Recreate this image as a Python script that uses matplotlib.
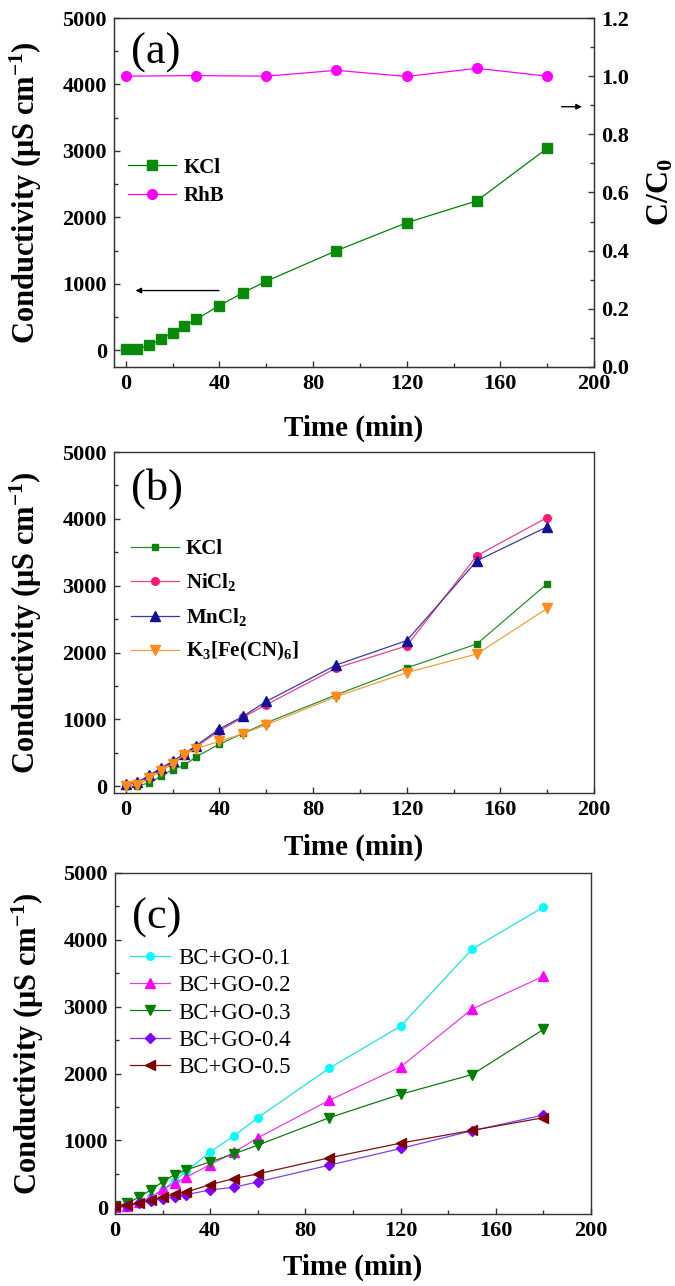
import matplotlib
matplotlib.use("Agg")
import matplotlib.pyplot as plt
from matplotlib.ticker import MultipleLocator, FormatStrFormatter

plt.rcParams['font.family'] = ['Liberation Serif', 'DejaVu Serif']
plt.rcParams['mathtext.fontset'] = 'custom'
plt.rcParams['mathtext.rm'] = 'Liberation Serif:bold'
plt.rcParams['mathtext.bf'] = 'Liberation Serif:bold'
plt.rcParams['mathtext.it'] = 'Liberation Serif:bold'
plt.rcParams['mathtext.default'] = 'rm'

# ---------------- data ----------------
# panel (a)
t_a = [0, 5, 10, 15, 20, 25, 30, 40, 50, 60, 90, 120, 150, 180]
kcl_a = [20, 20, 75, 165, 265, 365, 465, 675, 865, 1040, 1500, 1920, 2250, 3040]
t_rhb = [0, 30, 60, 90, 120, 150, 180]
rhb = [1.0, 1.002, 1.0, 1.02, 0.999, 1.027, 1.0]

# panel (b)
t_b = [0, 5, 10, 15, 20, 25, 30, 40, 50, 60, 90, 120, 150, 180]
kcl_b = [0, 10, 50, 150, 250, 313, 440, 630, 790, 950, 1370, 1770, 2130, 3030]
nicl2_b = [20, 50, 150, 260, 360, 480, 590, 830, 1030, 1220, 1770, 2100, 3450, 4020]
mncl2_b = [40, 60, 164, 274, 373, 488, 607, 857, 1045, 1269, 1816, 2179, 3373, 3881]
kfe_b = [0, 15, 125, 225, 340, 473, 563, 672, 787, 920, 1343, 1700, 1980, 2660]
labels_b = ['KCl', 'NiCl$_2$', 'MnCl$_2$', 'K$_3$[Fe(CN)$_6$]']

# panel (c)
t_c = [0, 5, 10, 15, 20, 25, 30, 40, 50, 60, 90, 120, 150, 180]
go01 = [0, 20, 60, 150, 260, 400, 540, 830, 1070, 1340, 2080, 2710, 3860, 4490]
go02 = [0, 25, 75, 150, 270, 360, 450, 640, 820, 1040, 1600, 2100, 2965, 3456]
go03 = [20, 60, 150, 260, 380, 490, 560, 680, 800, 930, 1340, 1690, 1985, 2660]
go04 = [10, 20, 60, 100, 130, 160, 190, 260, 300, 380, 630, 880, 1145, 1380]
go05 = [20, 30, 70, 110, 150, 200, 230, 340, 430, 500, 740, 960, 1150, 1340]
labels_c = ['BC+GO-0.1', 'BC+GO-0.2', 'BC+GO-0.3', 'BC+GO-0.4', 'BC+GO-0.5']

# ---------------- figure ----------------
fig = plt.figure(figsize=(6.75, 12.86), dpi=100)
W, H = 675.0, 1286.0

def add_ax(x0, x1, y0, y1):
    return fig.add_axes([x0 / W, 1 - y1 / H, (x1 - x0) / W, (y1 - y0) / H])

SPINE = '#333333'
TICKFS = 16
LABFS = 21

def style(ax, xlab_y):
    for s in ax.spines.values():
        s.set_color(SPINE)
        s.set_linewidth(1.0)
    ax.xaxis.set_major_locator(MultipleLocator(40))
    ax.xaxis.set_minor_locator(MultipleLocator(20))
    ax.yaxis.set_major_locator(MultipleLocator(1000))
    ax.yaxis.set_minor_locator(MultipleLocator(500))
    ax.tick_params(which='both', direction='in', color=SPINE, top=False, right=False,
                   labelsize=TICKFS, width=1.0)
    ax.tick_params(which='major', length=4.5, pad=5)
    ax.tick_params(which='minor', length=3)
    for lab in ax.get_xticklabels() + ax.get_yticklabels():
        lab.set_fontweight('bold')
    ax.set_xlabel('Time (min)', fontsize=LABFS, fontweight='bold', va='center')
    ax.xaxis.set_label_coords(0.5, xlab_y)
    ax.set_ylabel('Conductivity (μS cm$^{-1}$)', fontsize=LABFS + 1, fontweight='bold', va='center')
    ax.yaxis.set_label_coords(-0.183, 0.5)

lw = 0.9

# ---- (a)
ax = add_ax(114, 594, 18, 367)
ax.set_xlim(-5, 200)
ax.set_ylim(-250, 5000)
ax2 = ax.twinx()
ax2.set_ylim(0, 1.2)
ax.plot(t_a, kcl_a, '-s', color='#008000', mfc='#0a8a0a', mec='#0a8a0a', ms=6.5, lw=lw, label='KCl')
ax2.plot(t_rhb, rhb, '-o', color='#ff00ff', mfc='#ff00ff', mec='#ff00ff', ms=7, lw=lw)
ax.plot([], [], '-o', color='#ff00ff', mfc='#ff00ff', mec='#ff00ff', ms=7, lw=lw, label='RhB')
style(ax, -0.175)
ax2.yaxis.set_major_locator(MultipleLocator(0.2))
ax2.yaxis.set_minor_locator(MultipleLocator(0.1))
ax2.tick_params(which='both', direction='in', color=SPINE, labelsize=TICKFS, width=1.0)
ax2.tick_params(which='major', length=4.5, pad=5)
ax2.tick_params(which='minor', length=3)
ax2.yaxis.set_major_formatter(FormatStrFormatter('%.1f'))
for lab in ax2.get_yticklabels():
    lab.set_fontweight('bold')
for s in ax2.spines.values():
    s.set_color(SPINE)
ax2.set_ylabel('C/C$_0$', fontsize=LABFS + 2, fontweight='bold', va='center', rotation=90)
ax2.yaxis.set_label_coords(1.14, 0.5)
ax.legend(loc='upper left', bbox_to_anchor=(0.029, 0.60), frameon=False,
          prop={'weight': 'bold', 'size': 15}, handlelength=2.3, numpoints=1,
          borderpad=0, borderaxespad=0, labelspacing=0.42, handletextpad=0.35)
ax.text(0.035, 0.90, '(a)', transform=ax.transAxes, fontsize=32, va='center', ha='left')
ax.annotate('', xy=(3, 900), xytext=(41, 900),
            arrowprops=dict(arrowstyle='-|>', color='black', lw=1, mutation_scale=8))
ax2.annotate('', xy=(196, 0.895), xytext=(185, 0.895),
             arrowprops=dict(arrowstyle='-|>', color='black', lw=1, mutation_scale=8))

# ---- (b)
bx = add_ax(114, 594, 452, 793)
bx.set_xlim(-5, 200)
bx.set_ylim(-100, 5000)
bx.plot(t_b, kcl_b, '-s', color='#2e8b2e', mfc='#108010', mec='#108010', ms=5, lw=lw, label=labels_b[0])
bx.plot(t_b, nicl2_b, '-o', color='#e8408a', mfc='#ff1a75', mec='#ff1a75', ms=5.5, lw=lw, label=labels_b[1])
bx.plot(t_b, mncl2_b, '-^', color='#3a3a9a', mfc='#10109a', mec='#10109a', ms=6.5, lw=lw, label=labels_b[2])
bx.plot(t_b, kfe_b, '-v', color='#f0a040', mfc='#ff8c1a', mec='#ff8c1a', ms=6.5, lw=lw, label=labels_b[3])
style(bx, -0.158)
bx.legend(loc='upper left', bbox_to_anchor=(0.035, 0.745), frameon=False,
          prop={'weight': 'bold', 'size': 15}, handlelength=2.3, numpoints=1,
          borderpad=0, borderaxespad=0, labelspacing=0.6, handletextpad=0.35)
bx.text(0.035, 0.894, '(b)', transform=bx.transAxes, fontsize=32, va='center', ha='left')

# ---- (c)
cx = add_ax(115, 591, 873, 1214)
cx.set_xlim(0, 200)
cx.set_ylim(-100, 5000)
cx.plot(t_c, go01, '-o', color='#20e0e0', mfc='#00ffff', mec='#00ffff', ms=5.5, lw=lw, label=labels_c[0])
cx.plot(t_c, go02, '-^', color='#e040e0', mfc='#ff00ff', mec='#ff00ff', ms=7, lw=lw, label=labels_c[1])
cx.plot(t_c, go03, '-v', color='#107a10', mfc='#007f00', mec='#007f00', ms=7, lw=lw, label=labels_c[2])
cx.plot(t_c, go04, '-D', color='#8040e0', mfc='#7f00ff', mec='#7f00ff', ms=5, lw=lw, label=labels_c[3])
cx.plot(t_c, go05, '-<', color='#801010', mfc='#7f0000', mec='#7f0000', ms=7, lw=lw, label=labels_c[4])
style(cx, -0.155)
cx.legend(loc='upper left', bbox_to_anchor=(0.032, 0.78), frameon=False,
          prop={'size': 16.5}, handlelength=1.75, numpoints=1,
          borderpad=0, borderaxespad=0, labelspacing=0.27, handletextpad=0.35)
cx.text(0.035, 0.868, '(c)', transform=cx.transAxes, fontsize=32, va='center', ha='left')

fig.savefig('out.png', dpi=100)
